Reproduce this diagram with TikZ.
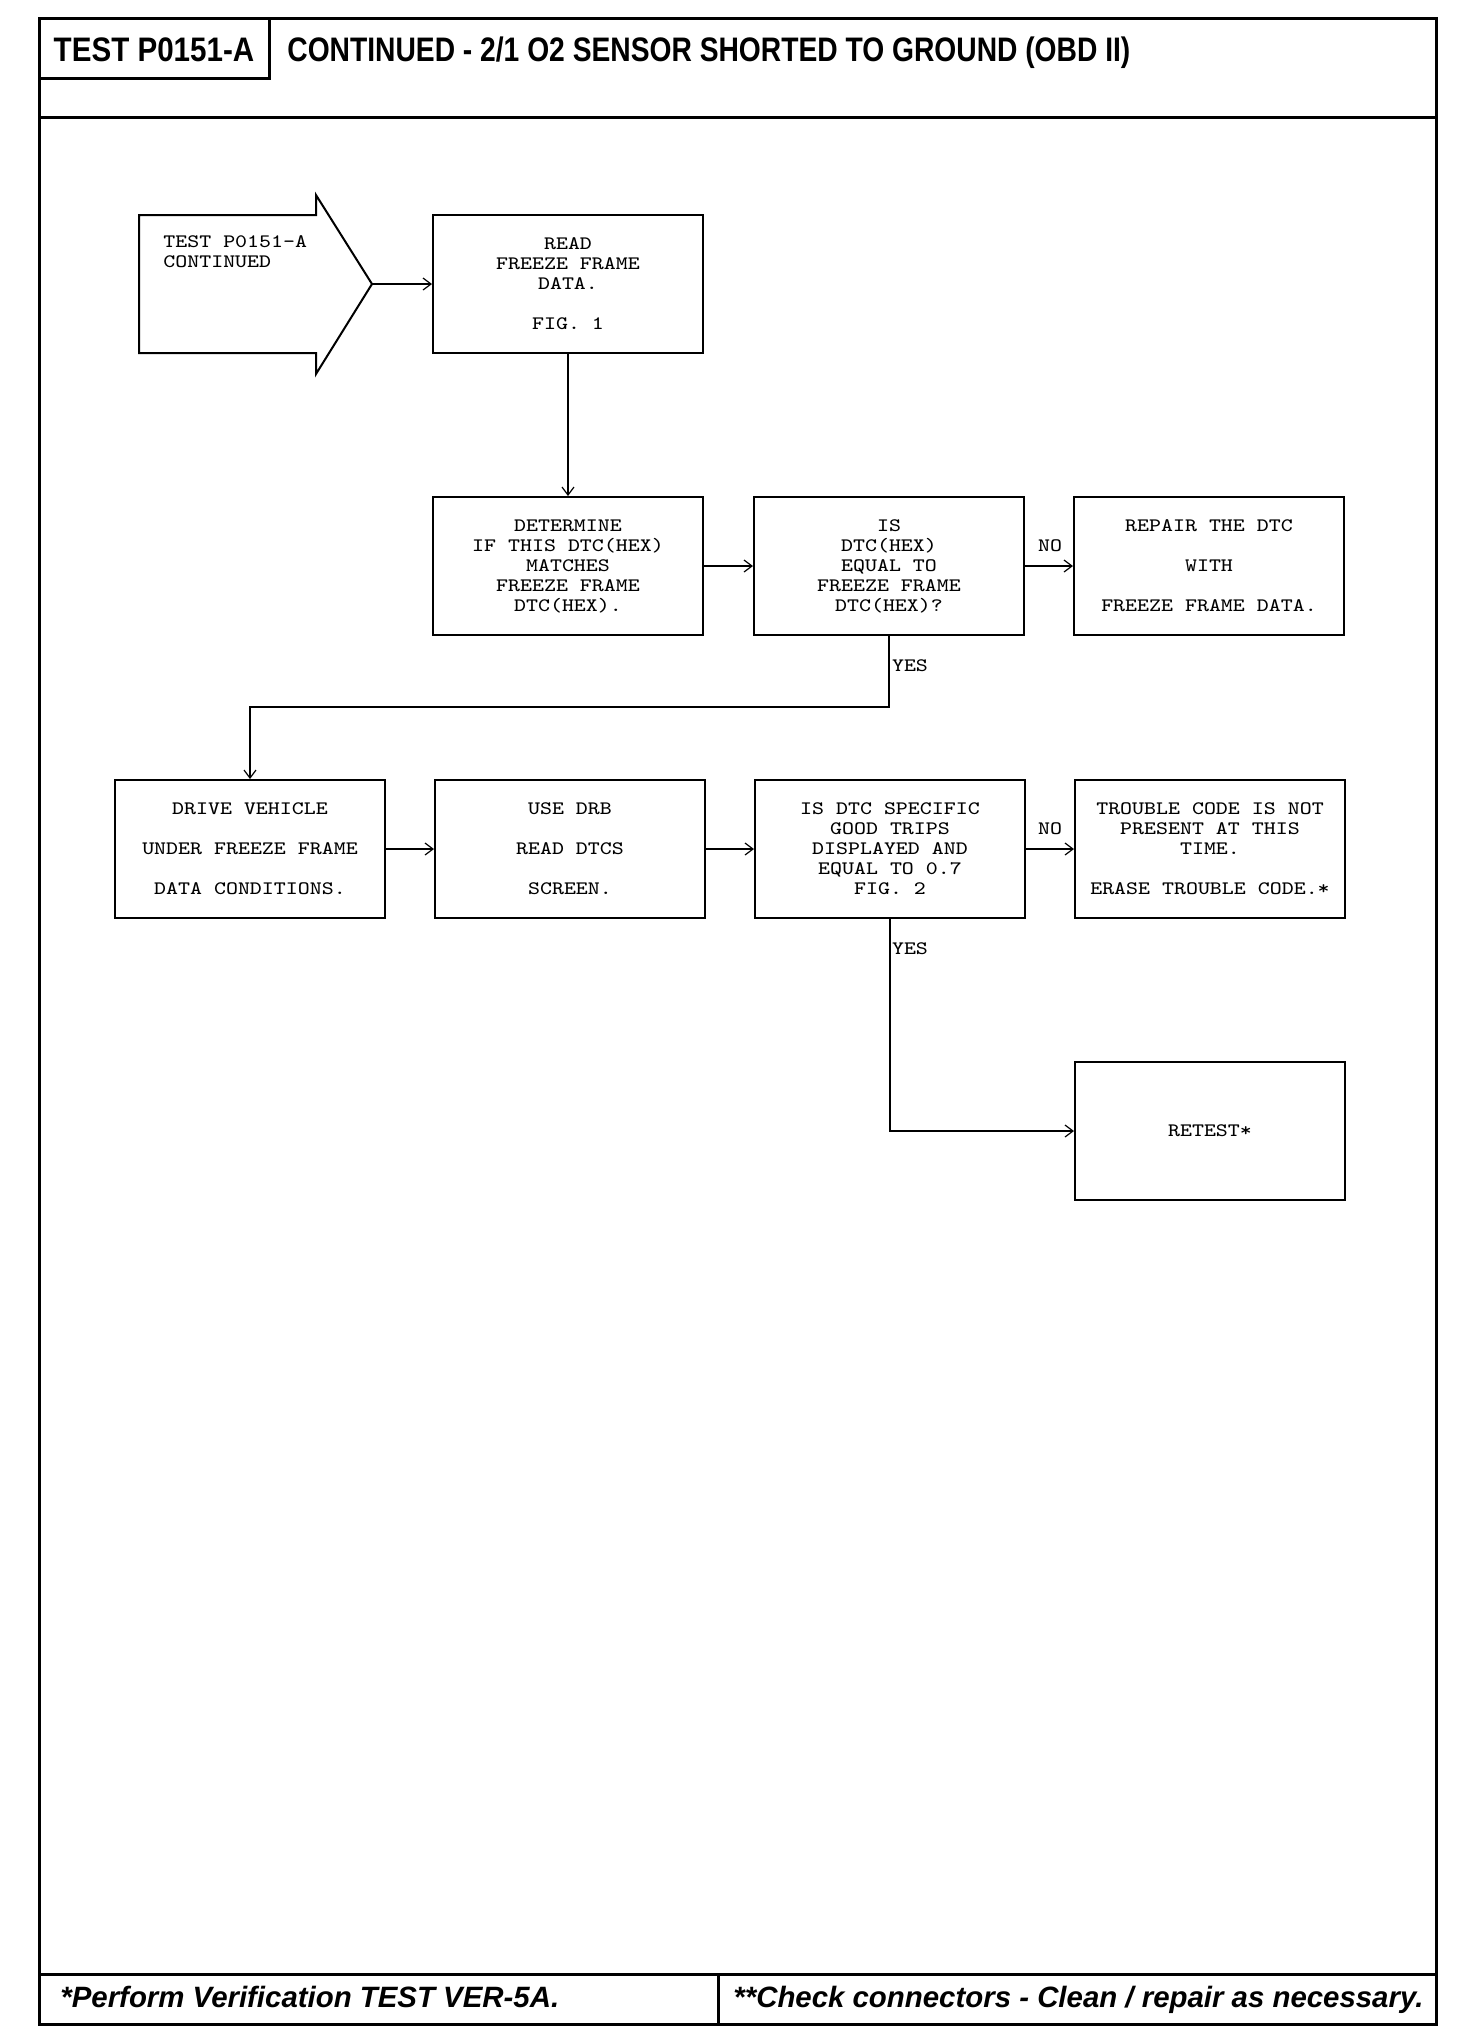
\documentclass[tikz,border=0pt]{standalone}
\usepackage{fontspec}
\setmainfont{Liberation Serif}
\newfontfamily\boxfont[FakeStretch=1.2]{Latin Modern Mono}
\newfontfamily\hdrfont[FakeStretch=0.83]{Liberation Sans}
\newfontfamily\tstfont[FakeStretch=0.87]{Liberation Sans}
\newfontfamily\ftrfont{Liberation Sans}
\usetikzlibrary{arrows.meta}
\begin{document}
\begin{tikzpicture}[x=0.5pt,y=-0.5pt,
  box/.style={draw, line width=1pt, minimum width=135pt, minimum height=69pt,
    inner sep=0pt, align=center, font=\boxfont\fontsize{9.5}{10}\selectfont},
  conn/.style={line width=0.6pt, -{Straight Barb[length=4pt,width=6pt]}},
  lbl/.style={font=\boxfont\fontsize{9.5}{10}\selectfont, inner sep=0pt},
  frameline/.style={line width=1.5pt},
  hdr/.style={inner sep=0pt, font=\hdrfont\bfseries\fontsize{17}{17}\selectfont},
  tst/.style={inner sep=0pt, font=\tstfont\bfseries\fontsize{17}{17}\selectfont},
  ftr/.style={inner sep=0pt, font=\ftrfont\bfseries\itshape\fontsize{14.7}{14.7}\selectfont}]
\useasboundingbox (0,0) rectangle (1472,2042);
\fill[white] (0,0) rectangle (1472,2042);
% frame
\draw[frameline] (39,18) rectangle (1436,2024);
\draw[frameline] (39,117) -- (1436,117);
\draw[frameline] (39,78) -- (269,78) -- (269,18);
\draw[frameline] (39,1974) -- (1436,1974);
\draw[frameline] (718,1974) -- (718,2024);
% header / footer texts
\node[tst, anchor=base] (tst) at (154,61) {TEST P0151-A};
\node[hdr, anchor=base west] (ttl) at (287,61) {CONTINUED - 2/1 O2 SENSOR SHORTED TO GROUND (OBD II)};
\node[ftr, anchor=base west] (f1) at (60,2007) {*Perform Verification TEST VER-5A.};
\node[ftr, anchor=base west] (f2) at (733,2007) {**Check connectors - Clean / repair as necessary.};
% entry arrow
\draw[line width=1pt] (139,215) -- (316,215) -- (316,195) -- (372,284) -- (316,374) -- (316,353) -- (139,353) -- cycle;
\coordinate (tip) at (372,284);
\node[lbl, anchor=west, align=left] (t0) at (163,252) {TEST P0151-A\\CONTINUED};
% boxes
\node[box] (read) at (568,284) {READ\\FREEZE FRAME\\DATA.\\[10pt]FIG. 1};
\node[box] (det) at (568,566) {DETERMINE\\IF THIS DTC(HEX)\\MATCHES\\FREEZE FRAME\\DTC(HEX).};
\node[box] (is1) at (889,566) {IS\\DTC(HEX)\\EQUAL TO\\FREEZE FRAME\\DTC(HEX)?};
\node[box] (rep) at (1209,566) {REPAIR THE DTC\\[10pt]WITH\\[10pt]FREEZE FRAME DATA.};
\node[box] (drive) at (250,849) {DRIVE VEHICLE\\[10pt]UNDER FREEZE FRAME\\[10pt]DATA CONDITIONS.};
\node[box] (use) at (570,849) {USE DRB\\[10pt]READ DTCS\\[10pt]SCREEN.};
\node[box] (is2) at (890,849) {IS DTC SPECIFIC\\GOOD TRIPS\\DISPLAYED AND\\EQUAL TO 0.7\\FIG. 2};
\node[box] (tc) at (1210,849) {TROUBLE CODE IS NOT\\PRESENT AT THIS\\TIME.\\[10pt]ERASE TROUBLE CODE.*};
\node[box] (ret) at (1210,1131) {RETEST*};
% connectors
\draw[conn] (tip) -- (read.west);
\draw[conn] (read.south) -- (det.north);
\draw[conn] (det.east) -- (is1.west);
\draw[conn] (is1.east) -- (rep.west);
\coordinate (j1) at (250,707);
\draw[conn] (is1.south) |- (j1) -- (drive.north);
\draw[conn] (drive.east) -- (use.west);
\draw[conn] (use.east) -- (is2.west);
\draw[conn] (is2.east) -- (tc.west);
\draw[conn] (is2.south) |- (ret.west);
% labels
\node[lbl] (no1) at (1050,546) {NO};
\node[lbl] (no2) at (1050,829) {NO};
\node[lbl] (yes1) at (910,666) {YES};
\node[lbl] (yes2) at (910,949) {YES};
\end{tikzpicture}
\end{document}
